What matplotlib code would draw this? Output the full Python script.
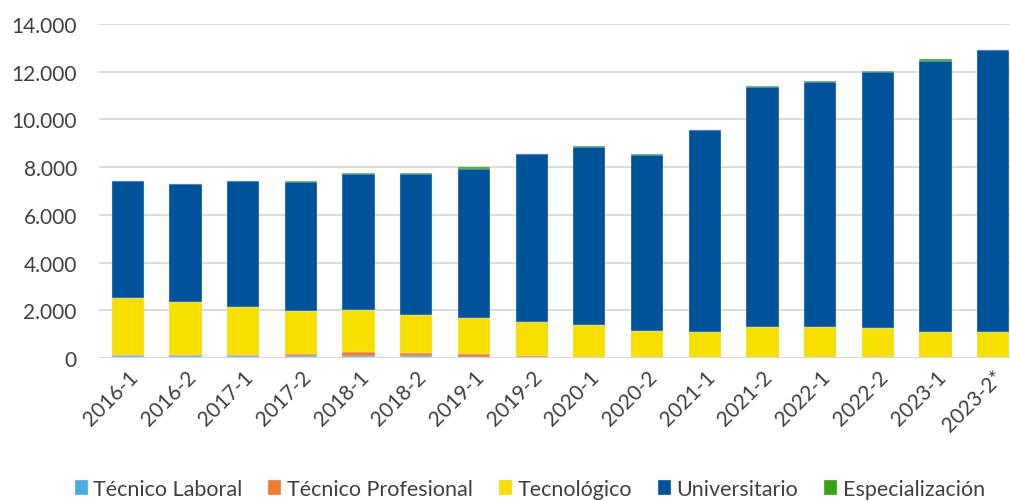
import numpy as np
import matplotlib.pyplot as plt
from matplotlib.ticker import FuncFormatter

plt.rcParams['font.family'] = ['Lato', 'DejaVu Sans']

periodos = ['2016-1', '2016-2', '2017-1', '2017-2', '2018-1', '2018-2',
            '2019-1', '2019-2', '2020-1', '2020-2', '2021-1', '2021-2',
            '2022-1', '2022-2', '2023-1', '2023-2*']

tecnico_laboral = [90, 100, 80, 80, 90, 80, 30, 15, 10, 10, 5, 10,
                   30, 30, 10, 5]
tecnico_profesional = [20, 30, 60, 100, 150, 120, 150, 85, 30, 20, 10, 10,
                       5, 5, 5, 5]
tecnologico = [2390, 2230, 2010, 1800, 1770, 1610, 1510, 1410, 1340, 1090,
               1065, 1270, 1265, 1225, 1085, 1070]
universitario = [4910, 4940, 5290, 5400, 5690, 5890, 6240, 7040, 7450, 7400,
                 8460, 10060, 10250, 10710, 11360, 11830]
especializacion = [0, 0, 0, 40, 70, 50, 60, 0, 50, 30, 20, 50,
                   50, 60, 60, 20]

series = [
    ('Técnico Laboral', tecnico_laboral, '#4BACE3'),
    ('Técnico Profesional', tecnico_profesional, '#ED7D31'),
    ('Tecnológico', tecnologico, '#F7E000'),
    ('Universitario', universitario, '#00529B'),
    ('Especialización', especializacion, '#38A312'),
]

fig = plt.figure(figsize=(10.10, 5.02), dpi=100)
ax = fig.add_axes([99 / 1010, 143 / 502, 923 / 1010, 334 / 502])

x = np.arange(len(periodos))
bottom = np.zeros(len(periodos))
for nombre, valores, color in series:
    ax.bar(x, valores, 0.56, bottom=bottom, color=color, label=nombre,
           edgecolor='#D5E1EE', linewidth=0.3, zorder=3)
    bottom += np.array(valores)

ax.set_xlim(-0.5, 15.5)
ax.set_ylim(0, 14000)
ax.set_yticks(range(0, 14001, 2000))
ax.yaxis.set_major_formatter(
    FuncFormatter(lambda v, _: f'{int(v):,}'.replace(',', '.')))
ax.grid(axis='y', color='#D9D9D9', linewidth=1.3, zorder=0)
for lado in ['top', 'right', 'left', 'bottom']:
    ax.spines[lado].set_visible(False)
ax.axhline(0, color='#D9D9D9', linewidth=1.3, zorder=4)
ax.tick_params(axis='both', length=0, labelsize=15, colors='#404040')
ax.tick_params(axis='y', pad=16)
ax.tick_params(axis='x', pad=6)
ax.set_xticks(x)
ax.set_xticklabels(periodos, rotation=45, ha='right', rotation_mode='anchor')

ax.legend(loc='center left', bbox_to_anchor=(-33 / 923, -131 / 334),
          ncol=5, frameon=False, fontsize=15.5, handlelength=0.6,
          handleheight=0.7, handletextpad=0.25, columnspacing=1.22,
          labelcolor='#404040', borderaxespad=0)

fig.savefig('out.png', dpi=100)
